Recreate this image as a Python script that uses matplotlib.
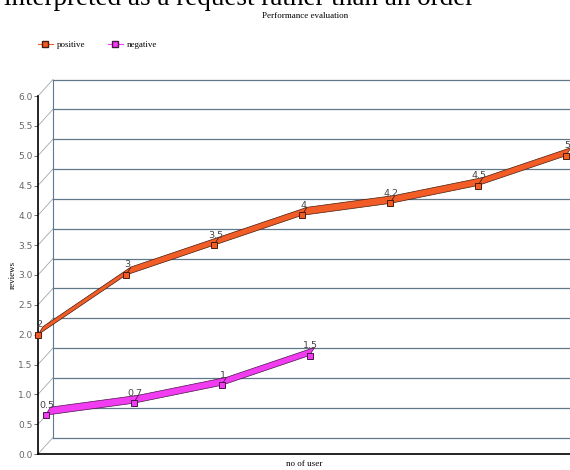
"""Performance evaluation: 3D-style line chart (positive / negative reviews)."""

import matplotlib
matplotlib.use("Agg")
import matplotlib.pyplot as plt
import numpy as np
from matplotlib.lines import Line2D
from matplotlib.patches import Polygon

# data
n_users = np.arange(7)
positive = [2, 3, 3.5, 4, 4.2, 4.5, 5]
negative = [0.5, 0.7, 1, 1.5]
y_ticks = np.arange(0, 6.01, 0.5)

POS_FILL, POS_EDGE = "#f25c27", "#4a1c0c"
NEG_FILL, NEG_EDGE = "#f23cf2", "#4a144a"
GRID = "#61788a"
DIAG = "#a0a8b0"

W, H = 570, 470
fig = plt.figure(figsize=(W / 100, H / 100), dpi=100)

# front plane of the plot, in pixels
x0, x1 = 38, 570
y0, y1 = 454, 96
ax = fig.add_axes([x0 / W, (H - y0) / H, (x1 - x0) / W, (y0 - y1) / H])
ax.set_xlim(0, (x1 - x0) / 88.0)
ax.set_ylim(0, 6)
ax.patch.set_visible(False)

for s in ["top", "right"]:
    ax.spines[s].set_visible(False)
ax.spines["left"].set_color("black")
ax.spines["bottom"].set_color("black")
ax.spines["left"].set_linewidth(1.2)
ax.spines["bottom"].set_linewidth(1.2)

ax.set_xticks([])
ax.set_yticks(y_ticks)
ax.set_yticklabels([f"{v:.1f}" for v in y_ticks], fontsize=6.5, color="#666666")
ax.tick_params(axis="y", length=3, width=0.6, color="#555555", pad=1)

fig.canvas.draw()
inv = ax.transData.inverted()


def px_off(dx, dy):
    """Pixel offset (right, up) -> data offset."""
    a = inv.transform(ax.transData.transform((0, 0)) + np.array([dx, dy]))
    return a[0], a[1]


# back wall
wdx, wdy = px_off(15, 16.5)
xr = ax.get_xlim()[1]
for v in y_ticks:
    ax.plot([0, wdx], [v, v + wdy], color=DIAG, lw=0.6, clip_on=False, zorder=1)
    ax.plot([wdx, xr], [v + wdy, v + wdy], color=GRID, lw=0.9, clip_on=False, zorder=1)
ax.plot([wdx, wdx], [wdy, 6 + wdy], color=GRID, lw=0.8, clip_on=False, zorder=1)


def ribbon(xs, ys, fill, edge, shift, depth):
    sx, sy = px_off(*shift)
    ddx, ddy = px_off(*depth)
    xs = np.asarray(xs, dtype=float) + sx
    ys = np.asarray(ys, dtype=float) + sy
    for i in range(len(xs) - 1):
        pts = [(xs[i], ys[i]), (xs[i + 1], ys[i + 1]),
               (xs[i + 1] + ddx, ys[i + 1] + ddy), (xs[i] + ddx, ys[i] + ddy)]
        ax.add_patch(Polygon(pts, closed=True, facecolor=fill, edgecolor=edge,
                             lw=0.5, clip_on=False, zorder=3))
    ax.plot(xs, ys, ls="none", marker="s", ms=4.5, mfc=fill, mec=edge, mew=0.7,
            clip_on=False, zorder=4)
    for x, y, v in zip(xs, ys, ys - sy):
        ax.annotate(f"{v:g}", (x, y), xytext=(1, 4), textcoords="offset points",
                    ha="center", va="bottom", fontsize=6.8, color="#444444", zorder=5)


ribbon(n_users[:len(positive)], positive, POS_FILL, POS_EDGE, (0, 0), (5, 8))
ribbon(n_users[:len(negative)], negative, NEG_FILL, NEG_EDGE, (7.5, 9), (5, 8))

ax.set_ylabel("reviews", family="Liberation Serif", fontsize=6.5, labelpad=1)
ax.set_xlabel("no of user", family="Liberation Serif", fontsize=6.5, labelpad=4)

fig.text(305 / W, 1 - 16 / H, "Performance evaluation", family="Liberation Serif",
         fontsize=6.5, ha="center", va="center")

# cropped caption text from the page above the chart
fig.text(4 / W, 1 - 5 / H, "interpreted as a request rather than an order",
         family="Liberation Serif", fontsize=19.5, ha="left", va="baseline")

handles = [
    Line2D([0], [0], color=POS_FILL, marker="s", ms=4, mfc=POS_FILL, mec=POS_EDGE, lw=0.8),
    Line2D([0], [0], color=NEG_FILL, marker="s", ms=4, mfc=NEG_FILL, mec=NEG_EDGE, lw=0.8),
]
fig.legend(handles, ["positive", "negative"], loc="center left",
           bbox_to_anchor=(30 / W, 1 - 45 / H), ncol=2, frameon=False,
           prop={"family": "Liberation Serif", "size": 6.5},
           handlelength=1.6, handletextpad=0.5, columnspacing=2.5)

fig.savefig("out.png", dpi=100)
